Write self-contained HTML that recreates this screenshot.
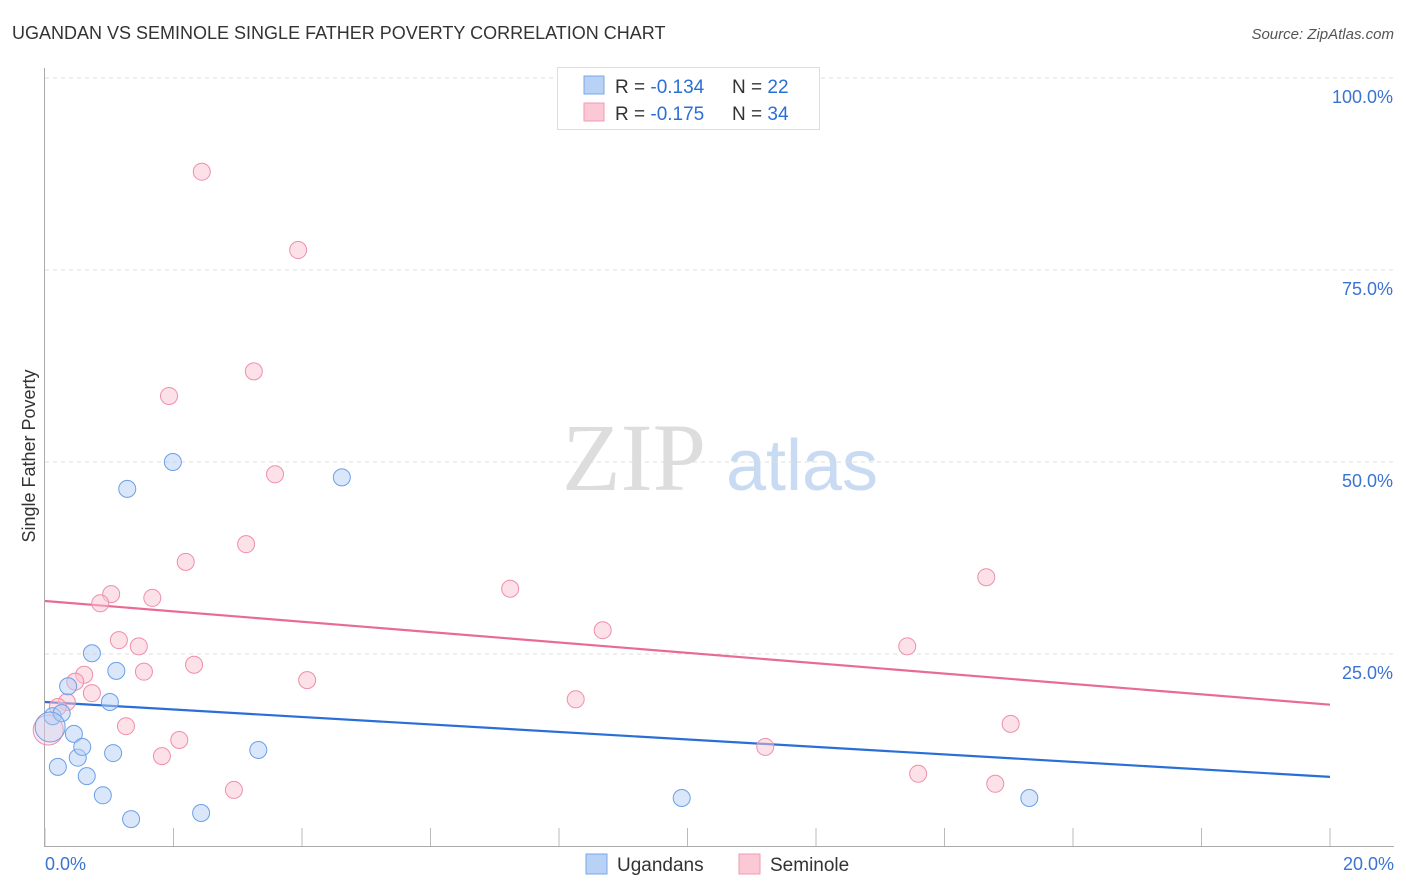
<!DOCTYPE html>
<html><head><meta charset="utf-8"><style>
body{margin:0;background:#fff;font-family:"Liberation Sans",sans-serif}
svg{display:block}
</style></head><body>
<svg id="chart" width="1406" height="892">
<text x="12" y="39" font-size="18" fill="#333">UGANDAN VS SEMINOLE SINGLE FATHER POVERTY CORRELATION CHART</text>
<text x="1394" y="39" font-size="15" fill="#555" font-style="italic" text-anchor="end">Source: ZipAtlas.com</text>
<text x="35" y="456" font-size="18" fill="#333" transform="rotate(-90 35 456)" text-anchor="middle">Single Father Poverty</text>
<text x="634" y="490" font-size="96" fill="#ddd" font-family="Liberation Serif" text-anchor="middle">ZIP</text>
<text x="802" y="490" font-size="72" fill="#c9daf3" text-anchor="middle">atlas</text>
<g id="grid"></g><g id="axes"></g><g id="lines"></g><g id="pts"></g>
<g>
<rect x="557.5" y="67.5" width="262" height="62" fill="#fff" stroke="#ddd"/>
<rect x="584" y="76" width="20" height="18" fill="#b8d2f6" stroke="#7aa7e8"/>
<rect x="584" y="103" width="20" height="18" fill="#fbc9d6" stroke="#f09ab3"/>
<text x="615" y="93" font-size="19" fill="#333">R = <tspan fill="#2b6fd6">-0.134</tspan><tspan x="732">N = </tspan><tspan fill="#2b6fd6">22</tspan></text>
<text x="615" y="120" font-size="19" fill="#333">R = <tspan fill="#2b6fd6">-0.175</tspan><tspan x="732">N = </tspan><tspan fill="#2b6fd6">34</tspan></text>
</g>
<g>
<rect x="586" y="854" width="21" height="20" fill="#b8d2f6" stroke="#7aa7e8"/>
<text x="617" y="871" font-size="19" fill="#333">Ugandans</text>
<rect x="739" y="854" width="21" height="20" fill="#fbc9d6" stroke="#f09ab3"/>
<text x="770" y="871" font-size="19" fill="#333">Seminole</text>
</g>
</svg>
<script>
const yTicks=[25,50,75,100];
const yTickLabels=["25.0%","50.0%","75.0%","100.0%"];
const xTickLabels=["0.0%","20.0%"];
const blueX=[0.12,0.26,0.36,0.45,0.51,0.58,0.20,0.65,0.73,0.90,1.01,1.06,1.11,1.28,1.34,1.99,2.43,3.32,4.62,9.91,15.32,0.08];
const blueY=[16.9,17.3,20.8,14.6,11.5,12.9,10.3,9.1,25.1,6.6,18.75,12.1,22.8,46.5,3.5,50.0,4.3,12.5,48.0,6.25,6.25,15.5];
const blueSize=[1,1,1,1,1,1,1,1,1,1,1,1,1,1,1,1,1,1,1,1,1,2];
const pinkX=[2.44,3.94,3.25,1.93,3.58,3.13,2.19,14.65,7.24,1.03,0.86,1.67,8.68,1.15,1.46,13.42,2.32,1.54,0.61,0.47,0.73,4.08,8.26,0.34,0.20,15.03,1.26,2.09,1.82,11.21,13.59,2.94,14.79,0.05];
const pinkY=[87.8,77.6,61.8,58.6,48.4,39.3,37.0,35.0,33.5,32.8,31.6,32.3,28.1,26.8,26.0,26.0,23.6,22.7,22.3,21.4,19.9,21.6,19.1,18.75,18.1,15.9,15.6,13.8,11.7,12.9,9.4,7.3,8.1,15.1];
const pinkSize=[1,1,1,1,1,1,1,1,1,1,1,1,1,1,1,1,1,1,1,1,1,1,1,1,1,1,1,1,1,1,1,1,1,2];
const blueTrend=[18.75,9.0];
const pinkTrend=[31.9,18.4];
const xMax=20;
const X=v=>45+v/xMax*1285, Y=v=>846-v/100*768;
const NS="http://www.w3.org/2000/svg";
function mk(t,a,p){const e=document.createElementNS(NS,t);for(const k in a)e.setAttribute(k,a[k]);p.appendChild(e);return e;}
const grid=document.getElementById('grid'),axes=document.getElementById('axes'),lines=document.getElementById('lines'),pts=document.getElementById('pts');
yTicks.forEach((t,i)=>{
 const l=mk('line',{x1:45,x2:1394,y1:Y(t),y2:Y(t),stroke:'#ddd','stroke-dasharray':'4,4'},grid);
 
 
 const tx=mk('text',{x:1393,y:Y(t)+25,'font-size':18,fill:'#3b73d1','text-anchor':'end'},axes);
 tx.textContent=yTickLabels[i];
 
 
});
const ax=mk('path',{d:'M44.5 68V846.5H1394',fill:'none',stroke:'#aaa'},axes);


for(let i=0;i<=10;i++){
 const tk=mk('line',{x1:X(i*2),x2:X(i*2),y1:828,y2:846,stroke:'#bbb'},axes);
 
 
}
[[0,'start',45],[20,'end',1394]].forEach((d,i)=>{
 const tx=mk('text',{x:d[2],y:870,'font-size':18,fill:'#3b73d1','text-anchor':d[1]},axes);
 tx.textContent=xTickLabels[i];
 
 
});
function pointsFor(xs,ys,sz,fill,stroke,name){
 xs.forEach((x,i)=>{
  const c=mk('circle',{cx:X(x),cy:Y(ys[i]),r:sz[i]>1?15:8.5,fill:fill,stroke:stroke,'stroke-width':1,'fill-opacity':sz[i]>1?0.35:0.5},pts);
  
  
 });
}
pointsFor(pinkX,pinkY,pinkSize,'#fbc3d2','#ee8eaa','seminole-point');
pointsFor(blueX,blueY,blueSize,'#b5cff5','#6b9fe6','ugandan-point');
const bl=mk('line',{x1:X(0),x2:X(xMax),y1:Y(blueTrend[0]),y2:Y(blueTrend[1]),stroke:'#2a6fd8','stroke-width':2.2},lines);


const pl=mk('line',{x1:X(0),x2:X(xMax),y1:Y(pinkTrend[0]),y2:Y(pinkTrend[1]),stroke:'#e86b95','stroke-width':2.2},lines);


</script>
</body></html>
